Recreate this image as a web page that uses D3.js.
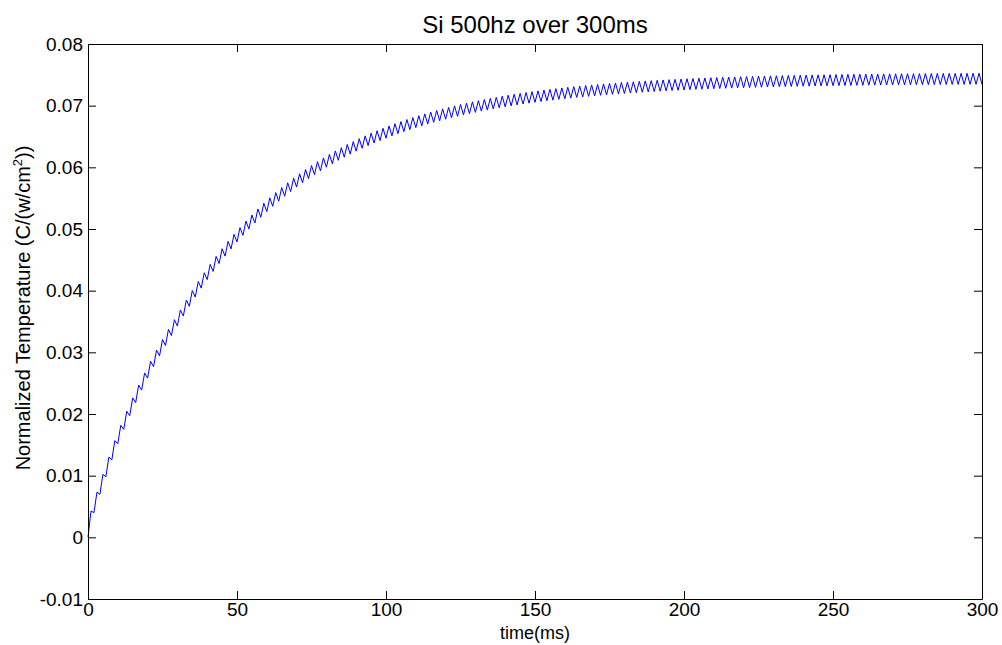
<!DOCTYPE HTML>
<meta charset="utf-8">
<html>
	<head>
		<script src="https://cdnjs.cloudflare.com/ajax/libs/d3/7.8.5/d3.min.js"></script>
		<style>
			body
			{
				margin: 0;
				background: #fff;
				font-family: 'Liberation Sans', Arial, sans-serif;
			}

			.line
			{
				fill: none;
				stroke: #0000ff;
				stroke-width: 1px;
			}
		</style>
	</head>
	<body>
		<svg width="1002" height="645"></svg>

		<script>

		// Data, one pulse every 2 ms (500 Hz)

		var titleText = "Si 500hz over 300ms";
		var xLabelText = "time(ms)";
		var xTicks = [0, 50, 100, 150, 200, 250, 300];
		var yTicks = [-0.01, 0, 0.01, 0.02, 0.03, 0.04, 0.05, 0.06, 0.07, 0.08];
		var yTickLabels = ["-0.01", "0", "0.01", "0.02", "0.03", "0.04", "0.05", "0.06", "0.07", "0.08"];
		var periodMs = 2;

		// temperature at the start of each pulse (t = 0, 2, 4 ... 300 ms)
		var troughs = [
			0, .00400, .00698, .00983, .01256, .01518, .01751, .01973, .02185, .02388,
			.02582, .02767, .02943, .03111, .03272, .03425, .03589, .03746, .03896, .04041,
			.04179, .04312, .04439, .04560, .04677, .04789, .04896, .04999, .05097, .05191,
			.05282, .05368, .05451, .05531, .05607, .05680, .05750, .05817, .05881, .05943,
			.06002, .06058, .06113, .06165, .06214, .06262, .06308, .06352, .06394, .06434,
			.06473, .06510, .06545, .06579, .06611, .06643, .06672, .06701, .06729, .06755,
			.06780, .06804, .06827, .06850, .06871, .06891, .06911, .06929, .06947, .06965,
			.06981, .06997, .07012, .07026, .07040, .07054, .07066, .07079, .07090, .07102,
			.07112, .07123, .07133, .07142, .07151, .07160, .07168, .07176, .07184, .07191,
			.07198, .07205, .07211, .07218, .07224, .07229, .07235, .07240, .07245, .07250,
			.07254, .07259, .07263, .07267, .07271, .07275, .07278, .07282, .07285, .07288,
			.07291, .07294, .07297, .07299, .07302, .07304, .07307, .07309, .07311, .07313,
			.07315, .07317, .07319, .07320, .07322, .07323, .07325, .07326, .07328, .07329,
			.07330, .07332, .07333, .07334, .07335, .07336, .07337, .07338, .07339, .07340,
			.07341, .07341, .07342, .07343, .07343, .07344, .07345, .07345, .07346, .07346,
			.07347
		];

		// temperature at the end of each pulse (t = 1, 3, 5 ... 299 ms)
		var peaks = [
			.00427, .00731, .01022, .01301, .01568, .01816, .02043, .02261, .02468, .02666,
			.02855, .03036, .03208, .03372, .03529, .03688, .03848, .04002, .04149, .04291,
			.04426, .04556, .04680, .04799, .04913, .05023, .05128, .05228, .05325, .05417,
			.05505, .05590, .05671, .05749, .05824, .05895, .05964, .06029, .06092, .06153,
			.06210, .06266, .06319, .06370, .06418, .06465, .06510, .06553, .06594, .06633,
			.06671, .06707, .06742, .06775, .06807, .06838, .06867, .06895, .06922, .06948,
			.06972, .06996, .07019, .07040, .07061, .07081, .07100, .07119, .07136, .07153,
			.07169, .07185, .07199, .07214, .07227, .07240, .07253, .07265, .07276, .07287,
			.07298, .07308, .07317, .07327, .07336, .07344, .07352, .07360, .07368, .07375,
			.07382, .07388, .07395, .07401, .07406, .07412, .07417, .07422, .07427, .07432,
			.07437, .07441, .07445, .07449, .07453, .07456, .07460, .07463, .07466, .07469,
			.07472, .07475, .07478, .07480, .07483, .07485, .07488, .07490, .07492, .07494,
			.07496, .07498, .07499, .07501, .07503, .07504, .07506, .07507, .07509, .07510,
			.07511, .07512, .07513, .07515, .07516, .07517, .07518, .07519, .07519, .07520,
			.07521, .07522, .07522, .07523, .07524, .07524, .07525, .07525, .07526, .07526
		];

		// interleave troughs and peaks into one time series
		var data = [];
		troughs.forEach(function(v, i) {
			data.push({ t: i * periodMs, v: v });
			if (i < peaks.length)
				data.push({ t: i * periodMs + periodMs / 2, v: peaks[i] });
		});

		// Chart

		var canvas = d3.select("svg");
		var margin = {top: 44, right: 20, bottom: 46, left: 88};
		var width = Number(canvas.attr("width")) - margin.left - margin.right;
		var height = Number(canvas.attr("height")) - margin.top - margin.bottom;
		var tickFont = 19;

		canvas.append("rect")
				.attr("width", 1002)
				.attr("height", 645)
				.attr("fill", "#fff");

		var group = canvas.append("g").attr("transform", "translate(" + margin.left + "," + margin.top + ")");

		var x = d3.scaleLinear()
				.domain([0, 300])
				.range([0, width]);

		var y = d3.scaleLinear()
				.domain([-0.01, 0.08])
				.range([height, 0]);

		var line = d3.line()
				.x(function(d) { return x(d.t); })
				.y(function(d) { return y(d.v); });

		group.append("path")
				.datum(data)
				.attr("class", "line")
				.attr("d", line);

		// MATLAB style box: ticks pointing inward on all four sides
		function styleAxis(g)
		{
			g.select(".domain").attr("stroke", "#000").attr("stroke-width", 1);
			g.selectAll(".tick line").attr("stroke", "#000");
			g.selectAll(".tick text")
					.attr("fill", "#000")
					.attr("font-family", "'Liberation Sans', Arial, sans-serif")
					.attr("font-size", tickFont);
		}

		group.append("g")
				.attr("transform", "translate(0," + height + ")")
				.call(d3.axisBottom(x).tickValues(xTicks).tickSizeInner(-8).tickSizeOuter(0).tickPadding(4).tickFormat(d3.format("d")))
				.call(styleAxis);

		group.append("g")
				.call(d3.axisTop(x).tickValues(xTicks).tickSizeInner(-8).tickSizeOuter(0).tickFormat(""))
				.call(styleAxis);

		group.append("g")
				.call(d3.axisLeft(y).tickValues(yTicks).tickSizeInner(-8).tickSizeOuter(0).tickPadding(5)
					.tickFormat(function(d, i) { return yTickLabels[i]; }))
				.call(styleAxis);

		group.append("g")
				.attr("transform", "translate(" + width + ",0)")
				.call(d3.axisRight(y).tickValues(yTicks).tickSizeInner(-8).tickSizeOuter(0).tickFormat(""))
				.call(styleAxis);

		// Title and labels
		canvas.append("text")
				.attr("x", margin.left + width / 2)
				.attr("y", 33)
				.attr("text-anchor", "middle")
				.attr("font-size", 24)
				.text(titleText);

		canvas.append("text")
				.attr("x", margin.left + width / 2)
				.attr("y", 639)
				.attr("text-anchor", "middle")
				.attr("font-size", 18)
				.text(xLabelText);

		var yLabel = canvas.append("text")
				.attr("transform", "translate(30,308) rotate(-90)")
				.attr("text-anchor", "middle")
				.attr("font-size", 20);
		yLabel.append("tspan").text("Normalized Temperature (C/(w/cm");
		yLabel.append("tspan").attr("font-size", 13).attr("dy", -8).text("2");
		yLabel.append("tspan").attr("dy", 8).text("))");

		</script>
	</body>
</html>
